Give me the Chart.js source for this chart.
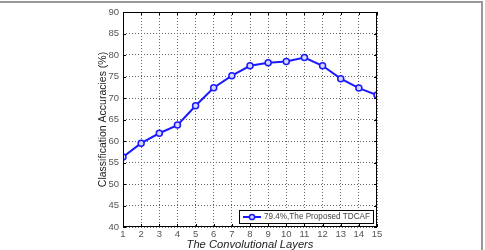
<!DOCTYPE html>
<html>
<head>
<meta charset="utf-8">
<script src="https://cdn.jsdelivr.net/npm/chart.js@4.4.1/dist/chart.umd.min.js"></script>
<style>
    html, body { margin: 0; padding: 0; background: #fff; }
    #wrap { position: relative; width: 485px; height: 250px; }
    #frame {
        position: absolute; left: 0; top: 1px; width: 483px; height: 249px;
        border-top: 2px solid #999; border-right: 2px solid #999;
        box-sizing: border-box; pointer-events: none;
    }
    canvas { position: absolute; left: 0; top: 0; }
</style>
</head>
<body>
<div id="wrap">
    <canvas id="chart" width="485" height="250"></canvas>
    <div id="frame"></div>
</div>
<script>
// data (perkiraan)
const layers = [1, 2, 3, 4, 5, 6, 7, 8, 9, 10, 11, 12, 13, 14, 15];
const accuracies = [56.3, 59.5, 61.8, 63.7, 68.2, 72.4, 75.2, 77.5, 78.2, 78.5, 79.4, 77.5, 74.5, 72.3, 70.7];
const seriesLabel = "79.4%,The Proposed TDCAF";
const yTicks = [40, 45, 50, 55, 60, 65, 70, 75, 80, 85, 90];

const FONT = "'Liberation Sans', Arial, sans-serif";
const LINE_BLUE = "#1a1aff";

// kotak hitam + tick kecil ke dalam (gaya MATLAB) + legend kotak
const matlabBox = {
    id: "matlabBox",
    afterDraw(chart) {
        const c = chart.ctx;
        const a = chart.chartArea;
        const xs = chart.scales.x, ys = chart.scales.y;
        c.save();
        c.strokeStyle = "#000";
        c.lineWidth = 1;
        c.setLineDash([]);
        c.strokeRect(a.left + 0.5, a.top + 0.5, a.right - a.left - 1, a.bottom - a.top - 1);

        c.beginPath();
        xs.ticks.forEach(t => {
            const px = Math.round(xs.getPixelForValue(t.value)) + 0.5;
            c.moveTo(px, a.bottom); c.lineTo(px, a.bottom - 3);
            c.moveTo(px, a.top); c.lineTo(px, a.top + 3);
        });
        ys.ticks.forEach(t => {
            const py = Math.round(ys.getPixelForValue(t.value)) + 0.5;
            c.moveTo(a.left, py); c.lineTo(a.left + 3, py);
            c.moveTo(a.right, py); c.lineTo(a.right - 3, py);
        });
        c.stroke();

        // legend
        const bx = 239, by = 210, bw = 134, bh = 13;
        c.fillStyle = "#fff";
        c.fillRect(bx, by, bw, bh);
        c.strokeRect(bx + 0.5, by + 0.5, bw, bh);
        const my = by + bh / 2 + 0.5;
        c.strokeStyle = LINE_BLUE;
        c.lineWidth = 2;
        c.beginPath();
        c.moveTo(bx + 4, my); c.lineTo(bx + 22, my);
        c.stroke();
        c.lineWidth = 1.5;
        c.beginPath();
        c.arc(bx + 13, my, 2.6, 0, Math.PI * 2);
        c.fillStyle = "#d8d8ff";
        c.fill();
        c.stroke();
        c.fillStyle = "#444";
        c.font = "8.5px " + FONT;
        c.textBaseline = "middle";
        c.fillText(chart.data.datasets[0].label, bx + 25, my, bw - 28);
        c.restore();
    }
};

const gridStyle = { color: "#666", drawTicks: false, lineWidth: 1 };
const borderStyle = { display: false, dash: [1, 2] };

new Chart(document.getElementById("chart"), {
    type: "line",
    data: {
        datasets: [{
            label: seriesLabel,
            data: layers.map((l, i) => ({ x: l, y: accuracies[i] })),
            borderColor: LINE_BLUE,
            borderWidth: 2,
            tension: 0,
            pointRadius: 3,
            pointBorderWidth: 1.5,
            pointBackgroundColor: "#d8d8ff",
            pointBorderColor: LINE_BLUE,
            fill: false
        }]
    },
    options: {
        responsive: false,
        animation: false,
        layout: { padding: { left: 96, right: 108, top: 12, bottom: 0 } },
        plugins: {
            legend: { display: false },
            tooltip: { enabled: false }
        },
        scales: {
            x: {
                type: "linear",
                min: 1, max: 15,
                afterBuildTicks: s => { s.ticks = layers.map(v => ({ value: v })); },
                afterFit: s => { s.height = 23; },
                grid: gridStyle,
                border: borderStyle,
                ticks: { color: "#555", font: { family: FONT, size: 9.5 }, padding: 2, maxRotation: 0 },
                title: {
                    display: true,
                    text: "The Convolutional Layers",
                    color: "#222",
                    font: { family: FONT, size: 11.2, style: "italic", lineHeight: 1 },
                    padding: { top: 0, bottom: 0 }
                }
            },
            y: {
                min: 40, max: 90,
                afterBuildTicks: s => { s.ticks = yTicks.map(v => ({ value: v })); },
                afterFit: s => { s.width = 27; },
                grid: gridStyle,
                border: borderStyle,
                ticks: { color: "#555", font: { family: FONT, size: 9.5 }, padding: 4 },
                title: {
                    display: true,
                    text: "Classification Accuracies (%)",
                    color: "#222",
                    font: { family: FONT, size: 10.5, lineHeight: 1.2 },
                    padding: { top: 1, bottom: 0 }
                }
            }
        }
    },
    plugins: [matlabBox]
});
</script>
</body>
</html>
